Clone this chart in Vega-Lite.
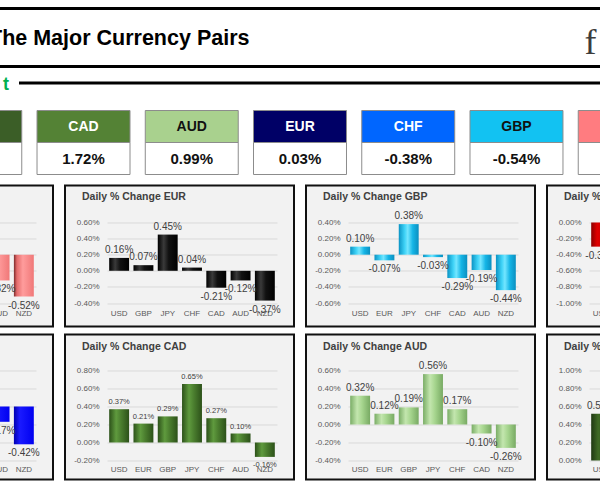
{
  "$schema": "https://vega.github.io/schema/vega-lite/v6.json",
  "background": "white",
  "padding": {"left": -178, "top": 6.5, "right": -174, "bottom": 20},
  "spacing": 6,
  "title": {"text": "f", "anchor": "start", "frame": "bounds", "dx": 762, "dy": 40, "offset": -32, "baseline": "middle", "font": "Liberation Serif, DejaVu Serif, serif", "fontSize": 36, "fontWeight": "normal", "color": "#3c3c3c"},
  "config": {
    "view": {"stroke": null},
    "axis": {"labelFont": "Liberation Sans", "labelFontSize": 8, "labelColor": "#595959", "gridColor": "#d9d9d9", "gridWidth": 1},
    "axisX": {"labelAngle": 0, "domain": false, "ticks": false, "tickSize": 0, "labelPadding": 2, "grid": false},
    "axisY": {"domain": false, "ticks": false, "tickSize": 0, "labelPadding": 8, "grid": true},
    "text": {"font": "Liberation Sans", "fontSize": 10, "color": "#404040"},
    "title": {"anchor": "start", "frame": "group", "dx": 17, "dy": 5, "offset": -12, "baseline": "middle", "font": "Liberation Sans", "fontSize": 10.5, "fontWeight": "bold", "color": "#404040"},
    "locale": {"number": {"decimal": ".", "thousands": ",", "grouping": [3], "currency": ["$", ""], "minus": "-"}}
  },
  "vconcat": [
    {
      "width": 952, "height": 58,
      "data": {"values": []},
      "mark": "point",
      "view": {"fill": "white", "stroke": "#000000", "strokeWidth": 3},
      "title": {"text": "The Major Currency Pairs", "anchor": "start", "frame": "group", "dx": 165, "dy": 23, "offset": -29, "baseline": "middle", "font": "Liberation Sans", "fontSize": 21.5, "fontWeight": "bold", "color": "#000000"}
    },
    {
      "spacing": 0,
      "bounds": "flush",
      "hconcat": [
        {
          "width": 196, "height": 1,
          "data": {"values": []},
          "mark": "point",
          "view": {"stroke": null}
        },
        {
          "width": 756, "height": 1,
          "data": {"values": []},
          "mark": "point",
          "view": {"stroke": "#000000", "strokeWidth": 2, "fill": "#000000"},
          "title": {"text": "t", "anchor": "start", "align": "right", "frame": "group", "dx": -11, "dy": 20, "offset": -0.5, "baseline": "middle", "font": "Liberation Sans", "fontSize": 18, "fontWeight": "bold", "color": "#00b050"}
        }
      ]
    },
    {
      "width": 952, "height": 77,
      "view": {"stroke": null},
      "data": {"values": [
        {"cur": "NZD", "change": 0.0298},
        {"cur": "CAD", "change": 0.0172},
        {"cur": "AUD", "change": 0.0099},
        {"cur": "EUR", "change": 0.0003},
        {"cur": "CHF", "change": -0.0038},
        {"cur": "GBP", "change": -0.0054},
        {"cur": "USD", "change": -0.0130}
      ]},
      "encoding": {
        "x": {"field": "cur", "type": "nominal", "sort": null, "scale": {"domain": ["NZD", "CAD", "AUD", "EUR", "CHF", "GBP", "USD"], "paddingInner": 0.141, "paddingOuter": 0.968}, "axis": null}
      },
      "layer": [
        {
          "mark": {"type": "rect", "stroke": "#8c8c8c", "strokeWidth": 1},
          "encoding": {
            "y": {"datum": "head", "type": "nominal", "scale": {"domain": ["head", "value"], "range": [9, 73], "paddingInner": 0, "paddingOuter": 0}, "axis": null},
            "color": {"field": "cur", "type": "nominal", "scale": {"domain": ["NZD", "CAD", "AUD", "EUR", "CHF", "GBP", "USD"], "range": ["#3b5e27", "#548235", "#a9d18e", "#000066", "#0066ff", "#12c2f2", "#ff7c80"]}, "legend": null}
          }
        },
        {
          "mark": {"type": "rect", "fill": "white", "stroke": "#8c8c8c", "strokeWidth": 1},
          "encoding": {"y": {"datum": "value", "type": "nominal"}}
        },
        {
          "mark": {"type": "text", "font": "Liberation Sans", "fontSize": 14, "fontWeight": "bold"},
          "encoding": {
            "y": {"datum": "head", "type": "nominal"},
            "text": {"field": "cur"},
            "color": {"condition": {"test": "datum.cur === 'AUD' || datum.cur === 'GBP'", "value": "#111111"}, "value": "#ffffff"}
          }
        },
        {
          "mark": {"type": "text", "font": "Liberation Sans", "fontSize": 15, "fontWeight": "bold", "color": "#111111"},
          "encoding": {
            "y": {"datum": "value", "type": "nominal"},
            "text": {"field": "change", "format": ".2%"}
          }
        }
      ]
    },
    {
      "spacing": 12,
      "bounds": "flush",
      "hconcat": [
        {
          "width": 229, "height": 141,
          "view": {"fill": "#f2f2f2", "stroke": "#111111", "strokeWidth": 2},
          "title": {"text": "Daily % Change USD"},
          "data": {"values": [
            {"vs": "EUR", "v": -0.0016}, {"vs": "GBP", "v": -0.0010}, {"vs": "JPY", "v": 0.0029}, {"vs": "CHF", "v": -0.0012},
            {"vs": "CAD", "v": -0.0037}, {"vs": "AUD", "v": -0.0032}, {"vs": "NZD", "v": -0.0052}
          ]},
          "encoding": {
            "x": {"field": "vs", "type": "nominal", "sort": null, "scale": {"domain": ["EUR", "GBP", "JPY", "CHF", "CAD", "AUD", "NZD"], "range": [42, 212], "paddingInner": 0.18, "paddingOuter": 0.09}, "axis": {"orient": "bottom", "offset": -19, "title": null}},
            "y": {"field": "v", "type": "quantitative", "scale": {"domain": [-0.006, 0.004], "range": [117.5, 37], "nice": false, "zero": false}, "axis": {"values": [-0.006, -0.004, -0.002, 0, 0.002, 0.004], "format": ".2%", "offset": -42, "title": null}}
          },
          "layer": [
            {"mark": {"type": "bar", "color": {"gradient": "linear", "x1": 0, "y1": 0, "x2": 1, "y2": 0, "stops": [{"offset": 0, "color": "#7d2b2b"}, {"offset": 0.15, "color": "#e46c6c"}, {"offset": 0.45, "color": "#ff9c9c"}, {"offset": 1, "color": "#f07878"}]}}},
            {"transform": [{"filter": "datum.v >= 0"}], "mark": {"type": "text", "baseline": "bottom", "dy": -3}, "encoding": {"text": {"field": "v", "format": ".2%"}}},
            {"transform": [{"filter": "datum.v < 0"}], "mark": {"type": "text", "baseline": "top", "dy": 4}, "encoding": {"text": {"field": "v", "format": ".2%"}}}
          ]
        },
        {
          "width": 229, "height": 141,
          "view": {"fill": "#f2f2f2", "stroke": "#111111", "strokeWidth": 2},
          "title": {"text": "Daily % Change EUR"},
          "data": {"values": [
            {"vs": "USD", "v": 0.0016}, {"vs": "GBP", "v": 0.0007}, {"vs": "JPY", "v": 0.0045}, {"vs": "CHF", "v": 0.0004},
            {"vs": "CAD", "v": -0.0021}, {"vs": "AUD", "v": -0.0012}, {"vs": "NZD", "v": -0.0037}
          ]},
          "encoding": {
            "x": {"field": "vs", "type": "nominal", "sort": null, "scale": {"domain": ["USD", "GBP", "JPY", "CHF", "CAD", "AUD", "NZD"], "range": [42, 212], "paddingInner": 0.18, "paddingOuter": 0.09}, "axis": {"orient": "bottom", "offset": -19, "title": null}},
            "y": {"field": "v", "type": "quantitative", "scale": {"domain": [-0.004, 0.006], "range": [117.5, 37], "nice": false, "zero": false}, "axis": {"values": [-0.004, -0.002, 0, 0.002, 0.004, 0.006], "format": ".2%", "offset": -42, "title": null}}
          },
          "layer": [
            {"mark": {"type": "bar", "color": {"gradient": "linear", "x1": 0, "y1": 0, "x2": 1, "y2": 0, "stops": [{"offset": 0, "color": "#000000"}, {"offset": 0.3, "color": "#3a3a3a"}, {"offset": 0.55, "color": "#111111"}, {"offset": 1, "color": "#000000"}]}}},
            {"transform": [{"filter": "datum.v >= 0"}], "mark": {"type": "text", "baseline": "bottom", "dy": -3}, "encoding": {"text": {"field": "v", "format": ".2%"}}},
            {"transform": [{"filter": "datum.v < 0"}], "mark": {"type": "text", "baseline": "top", "dy": 4}, "encoding": {"text": {"field": "v", "format": ".2%"}}}
          ]
        },
        {
          "width": 229, "height": 141,
          "view": {"fill": "#f2f2f2", "stroke": "#111111", "strokeWidth": 2},
          "title": {"text": "Daily % Change GBP"},
          "data": {"values": [
            {"vs": "USD", "v": 0.0010}, {"vs": "EUR", "v": -0.0007}, {"vs": "JPY", "v": 0.0038}, {"vs": "CHF", "v": -0.0003},
            {"vs": "CAD", "v": -0.0029}, {"vs": "AUD", "v": -0.0019}, {"vs": "NZD", "v": -0.0044}
          ]},
          "encoding": {
            "x": {"field": "vs", "type": "nominal", "sort": null, "scale": {"domain": ["USD", "EUR", "JPY", "CHF", "CAD", "AUD", "NZD"], "range": [42, 212], "paddingInner": 0.18, "paddingOuter": 0.09}, "axis": {"orient": "bottom", "offset": -19, "title": null}},
            "y": {"field": "v", "type": "quantitative", "scale": {"domain": [-0.006, 0.004], "range": [117.5, 37], "nice": false, "zero": false}, "axis": {"values": [-0.006, -0.004, -0.002, 0, 0.002, 0.004], "format": ".2%", "offset": -42, "title": null}}
          },
          "layer": [
            {"mark": {"type": "bar", "color": {"gradient": "linear", "x1": 0, "y1": 0, "x2": 1, "y2": 0, "stops": [{"offset": 0, "color": "#0a93c4"}, {"offset": 0.3, "color": "#3fd3f7"}, {"offset": 0.45, "color": "#74e6ff"}, {"offset": 0.7, "color": "#15b5e6"}, {"offset": 1, "color": "#0a8fc0"}]}}},
            {"transform": [{"filter": "datum.v >= 0"}], "mark": {"type": "text", "baseline": "bottom", "dy": -3}, "encoding": {"text": {"field": "v", "format": ".2%"}}},
            {"transform": [{"filter": "datum.v < 0"}], "mark": {"type": "text", "baseline": "top", "dy": 4}, "encoding": {"text": {"field": "v", "format": ".2%"}}}
          ]
        },
        {
          "width": 229, "height": 141,
          "view": {"fill": "#f2f2f2", "stroke": "#111111", "strokeWidth": 2},
          "title": {"text": "Daily % Change JPY"},
          "data": {"values": [
            {"vs": "USD", "v": -0.0030}, {"vs": "EUR", "v": -0.0045}, {"vs": "GBP", "v": -0.0038}, {"vs": "CHF", "v": -0.0041},
            {"vs": "CAD", "v": -0.0065}, {"vs": "AUD", "v": -0.0056}, {"vs": "NZD", "v": -0.0081}
          ]},
          "encoding": {
            "x": {"field": "vs", "type": "nominal", "sort": null, "scale": {"domain": ["USD", "EUR", "GBP", "CHF", "CAD", "AUD", "NZD"], "range": [42, 212], "paddingInner": 0.18, "paddingOuter": 0.09}, "axis": {"orient": "bottom", "offset": -19, "title": null}},
            "y": {"field": "v", "type": "quantitative", "scale": {"domain": [-0.01, 0], "range": [117.5, 37], "nice": false, "zero": false}, "axis": {"values": [-0.01, -0.008, -0.006, -0.004, -0.002, 0], "format": ".2%", "offset": -42, "title": null}}
          },
          "layer": [
            {"mark": {"type": "bar", "color": {"gradient": "linear", "x1": 0, "y1": 0, "x2": 1, "y2": 0, "stops": [{"offset": 0, "color": "#8c0000"}, {"offset": 0.3, "color": "#e00000"}, {"offset": 1, "color": "#b80000"}]}}},
            {"transform": [{"filter": "datum.v >= 0"}], "mark": {"type": "text", "baseline": "bottom", "dy": -3}, "encoding": {"text": {"field": "v", "format": ".2%"}}},
            {"transform": [{"filter": "datum.v < 0"}], "mark": {"type": "text", "baseline": "top", "dy": 4}, "encoding": {"text": {"field": "v", "format": ".2%"}}}
          ]
        }
      ]
    },
    {
      "spacing": 12,
      "bounds": "flush",
      "hconcat": [
        {
          "width": 229, "height": 145,
          "view": {"fill": "#f2f2f2", "stroke": "#111111", "strokeWidth": 2},
          "title": {"text": "Daily % Change CHF", "offset": -13},
          "data": {"values": [
            {"vs": "USD", "v": 0.0012}, {"vs": "EUR", "v": -0.0004}, {"vs": "GBP", "v": 0.0003}, {"vs": "JPY", "v": 0.0041},
            {"vs": "CAD", "v": -0.0025}, {"vs": "AUD", "v": -0.0017}, {"vs": "NZD", "v": -0.0042}
          ]},
          "encoding": {
            "x": {"field": "vs", "type": "nominal", "sort": null, "scale": {"domain": ["USD", "EUR", "GBP", "JPY", "CAD", "AUD", "NZD"], "range": [42, 212], "paddingInner": 0.18, "paddingOuter": 0.09}, "axis": {"orient": "bottom", "offset": -16, "title": null}},
            "y": {"field": "v", "type": "quantitative", "scale": {"domain": [-0.006, 0.004], "range": [126, 36], "nice": false, "zero": false}, "axis": {"values": [-0.006, -0.004, -0.002, 0, 0.002, 0.004], "format": ".2%", "offset": -42, "title": null}}
          },
          "layer": [
            {"mark": {"type": "bar", "color": {"gradient": "linear", "x1": 0, "y1": 0, "x2": 1, "y2": 0, "stops": [{"offset": 0, "color": "#0000b0"}, {"offset": 0.3, "color": "#1a1aff"}, {"offset": 1, "color": "#0000f0"}]}}},
            {"transform": [{"filter": "datum.v >= 0"}], "mark": {"type": "text", "baseline": "bottom", "dy": -3}, "encoding": {"text": {"field": "v", "format": ".2%"}}},
            {"transform": [{"filter": "datum.v < 0"}], "mark": {"type": "text", "baseline": "top", "dy": 4}, "encoding": {"text": {"field": "v", "format": ".2%"}}}
          ]
        },
        {
          "width": 229, "height": 145,
          "view": {"fill": "#f2f2f2", "stroke": "#111111", "strokeWidth": 2},
          "title": {"text": "Daily % Change CAD", "offset": -13},
          "data": {"values": [
            {"vs": "USD", "v": 0.0037}, {"vs": "EUR", "v": 0.0021}, {"vs": "GBP", "v": 0.0029}, {"vs": "JPY", "v": 0.0065},
            {"vs": "CHF", "v": 0.0027}, {"vs": "AUD", "v": 0.0010}, {"vs": "NZD", "v": -0.0016}
          ]},
          "encoding": {
            "x": {"field": "vs", "type": "nominal", "sort": null, "scale": {"domain": ["USD", "EUR", "GBP", "JPY", "CHF", "AUD", "NZD"], "range": [42, 212], "paddingInner": 0.18, "paddingOuter": 0.09}, "axis": {"orient": "bottom", "offset": -16, "title": null}},
            "y": {"field": "v", "type": "quantitative", "scale": {"domain": [-0.002, 0.008], "range": [126, 36], "nice": false, "zero": false}, "axis": {"values": [-0.002, 0, 0.002, 0.004, 0.006, 0.008], "format": ".2%", "offset": -42, "title": null}}
          },
          "layer": [
            {"mark": {"type": "bar", "color": {"gradient": "linear", "x1": 0, "y1": 0, "x2": 1, "y2": 0, "stops": [{"offset": 0, "color": "#2c5119"}, {"offset": 0.35, "color": "#5f9a3e"}, {"offset": 0.6, "color": "#4a7d2e"}, {"offset": 1, "color": "#2c5119"}]}}},
            {"transform": [{"filter": "datum.v >= 0"}], "mark": {"type": "text", "baseline": "bottom", "dy": -3, "fontSize": 7.5}, "encoding": {"text": {"field": "v", "format": ".2%"}}},
            {"transform": [{"filter": "datum.v < 0"}], "mark": {"type": "text", "baseline": "top", "dy": 4, "fontSize": 7.5}, "encoding": {"text": {"field": "v", "format": ".2%"}}}
          ]
        },
        {
          "width": 229, "height": 145,
          "view": {"fill": "#f2f2f2", "stroke": "#111111", "strokeWidth": 2},
          "title": {"text": "Daily % Change AUD", "offset": -13},
          "data": {"values": [
            {"vs": "USD", "v": 0.0032}, {"vs": "EUR", "v": 0.0012}, {"vs": "GBP", "v": 0.0019}, {"vs": "JPY", "v": 0.0056},
            {"vs": "CHF", "v": 0.0017}, {"vs": "CAD", "v": -0.0010}, {"vs": "NZD", "v": -0.0026}
          ]},
          "encoding": {
            "x": {"field": "vs", "type": "nominal", "sort": null, "scale": {"domain": ["USD", "EUR", "GBP", "JPY", "CHF", "CAD", "NZD"], "range": [42, 212], "paddingInner": 0.18, "paddingOuter": 0.09}, "axis": {"orient": "bottom", "offset": -16, "title": null}},
            "y": {"field": "v", "type": "quantitative", "scale": {"domain": [-0.004, 0.006], "range": [126, 36], "nice": false, "zero": false}, "axis": {"values": [-0.004, -0.002, 0, 0.002, 0.004, 0.006], "format": ".2%", "offset": -42, "title": null}}
          },
          "layer": [
            {"mark": {"type": "bar", "color": {"gradient": "linear", "x1": 0, "y1": 0, "x2": 1, "y2": 0, "stops": [{"offset": 0, "color": "#7aad66"}, {"offset": 0.35, "color": "#c3e6ae"}, {"offset": 0.6, "color": "#a6d58e"}, {"offset": 1, "color": "#78aa63"}]}}},
            {"transform": [{"filter": "datum.v >= 0"}], "mark": {"type": "text", "baseline": "bottom", "dy": -3}, "encoding": {"text": {"field": "v", "format": ".2%"}}},
            {"transform": [{"filter": "datum.v < 0"}], "mark": {"type": "text", "baseline": "top", "dy": 4}, "encoding": {"text": {"field": "v", "format": ".2%"}}}
          ]
        },
        {
          "width": 229, "height": 145,
          "view": {"fill": "#f2f2f2", "stroke": "#111111", "strokeWidth": 2},
          "title": {"text": "Daily % Change NZD", "offset": -13},
          "data": {"values": [
            {"vs": "USD", "v": 0.0052}, {"vs": "EUR", "v": 0.0037}, {"vs": "GBP", "v": 0.0044}, {"vs": "JPY", "v": 0.0081},
            {"vs": "CHF", "v": 0.0042}, {"vs": "CAD", "v": 0.0016}, {"vs": "AUD", "v": 0.0026}
          ]},
          "encoding": {
            "x": {"field": "vs", "type": "nominal", "sort": null, "scale": {"domain": ["USD", "EUR", "GBP", "JPY", "CHF", "CAD", "AUD"], "range": [42, 212], "paddingInner": 0.18, "paddingOuter": 0.09}, "axis": {"orient": "bottom", "offset": -16, "title": null}},
            "y": {"field": "v", "type": "quantitative", "scale": {"domain": [0, 0.01], "range": [126, 36], "nice": false, "zero": false}, "axis": {"values": [0, 0.002, 0.004, 0.006, 0.008, 0.01], "format": ".2%", "offset": -42, "title": null}}
          },
          "layer": [
            {"mark": {"type": "bar", "color": {"gradient": "linear", "x1": 0, "y1": 0, "x2": 1, "y2": 0, "stops": [{"offset": 0, "color": "#1f3812"}, {"offset": 0.35, "color": "#3f6a25"}, {"offset": 1, "color": "#2a4a18"}]}}},
            {"transform": [{"filter": "datum.v >= 0"}], "mark": {"type": "text", "baseline": "bottom", "dy": -3}, "encoding": {"text": {"field": "v", "format": ".2%"}}},
            {"transform": [{"filter": "datum.v < 0"}], "mark": {"type": "text", "baseline": "top", "dy": 4}, "encoding": {"text": {"field": "v", "format": ".2%"}}}
          ]
        }
      ]
    }
  ]
}
